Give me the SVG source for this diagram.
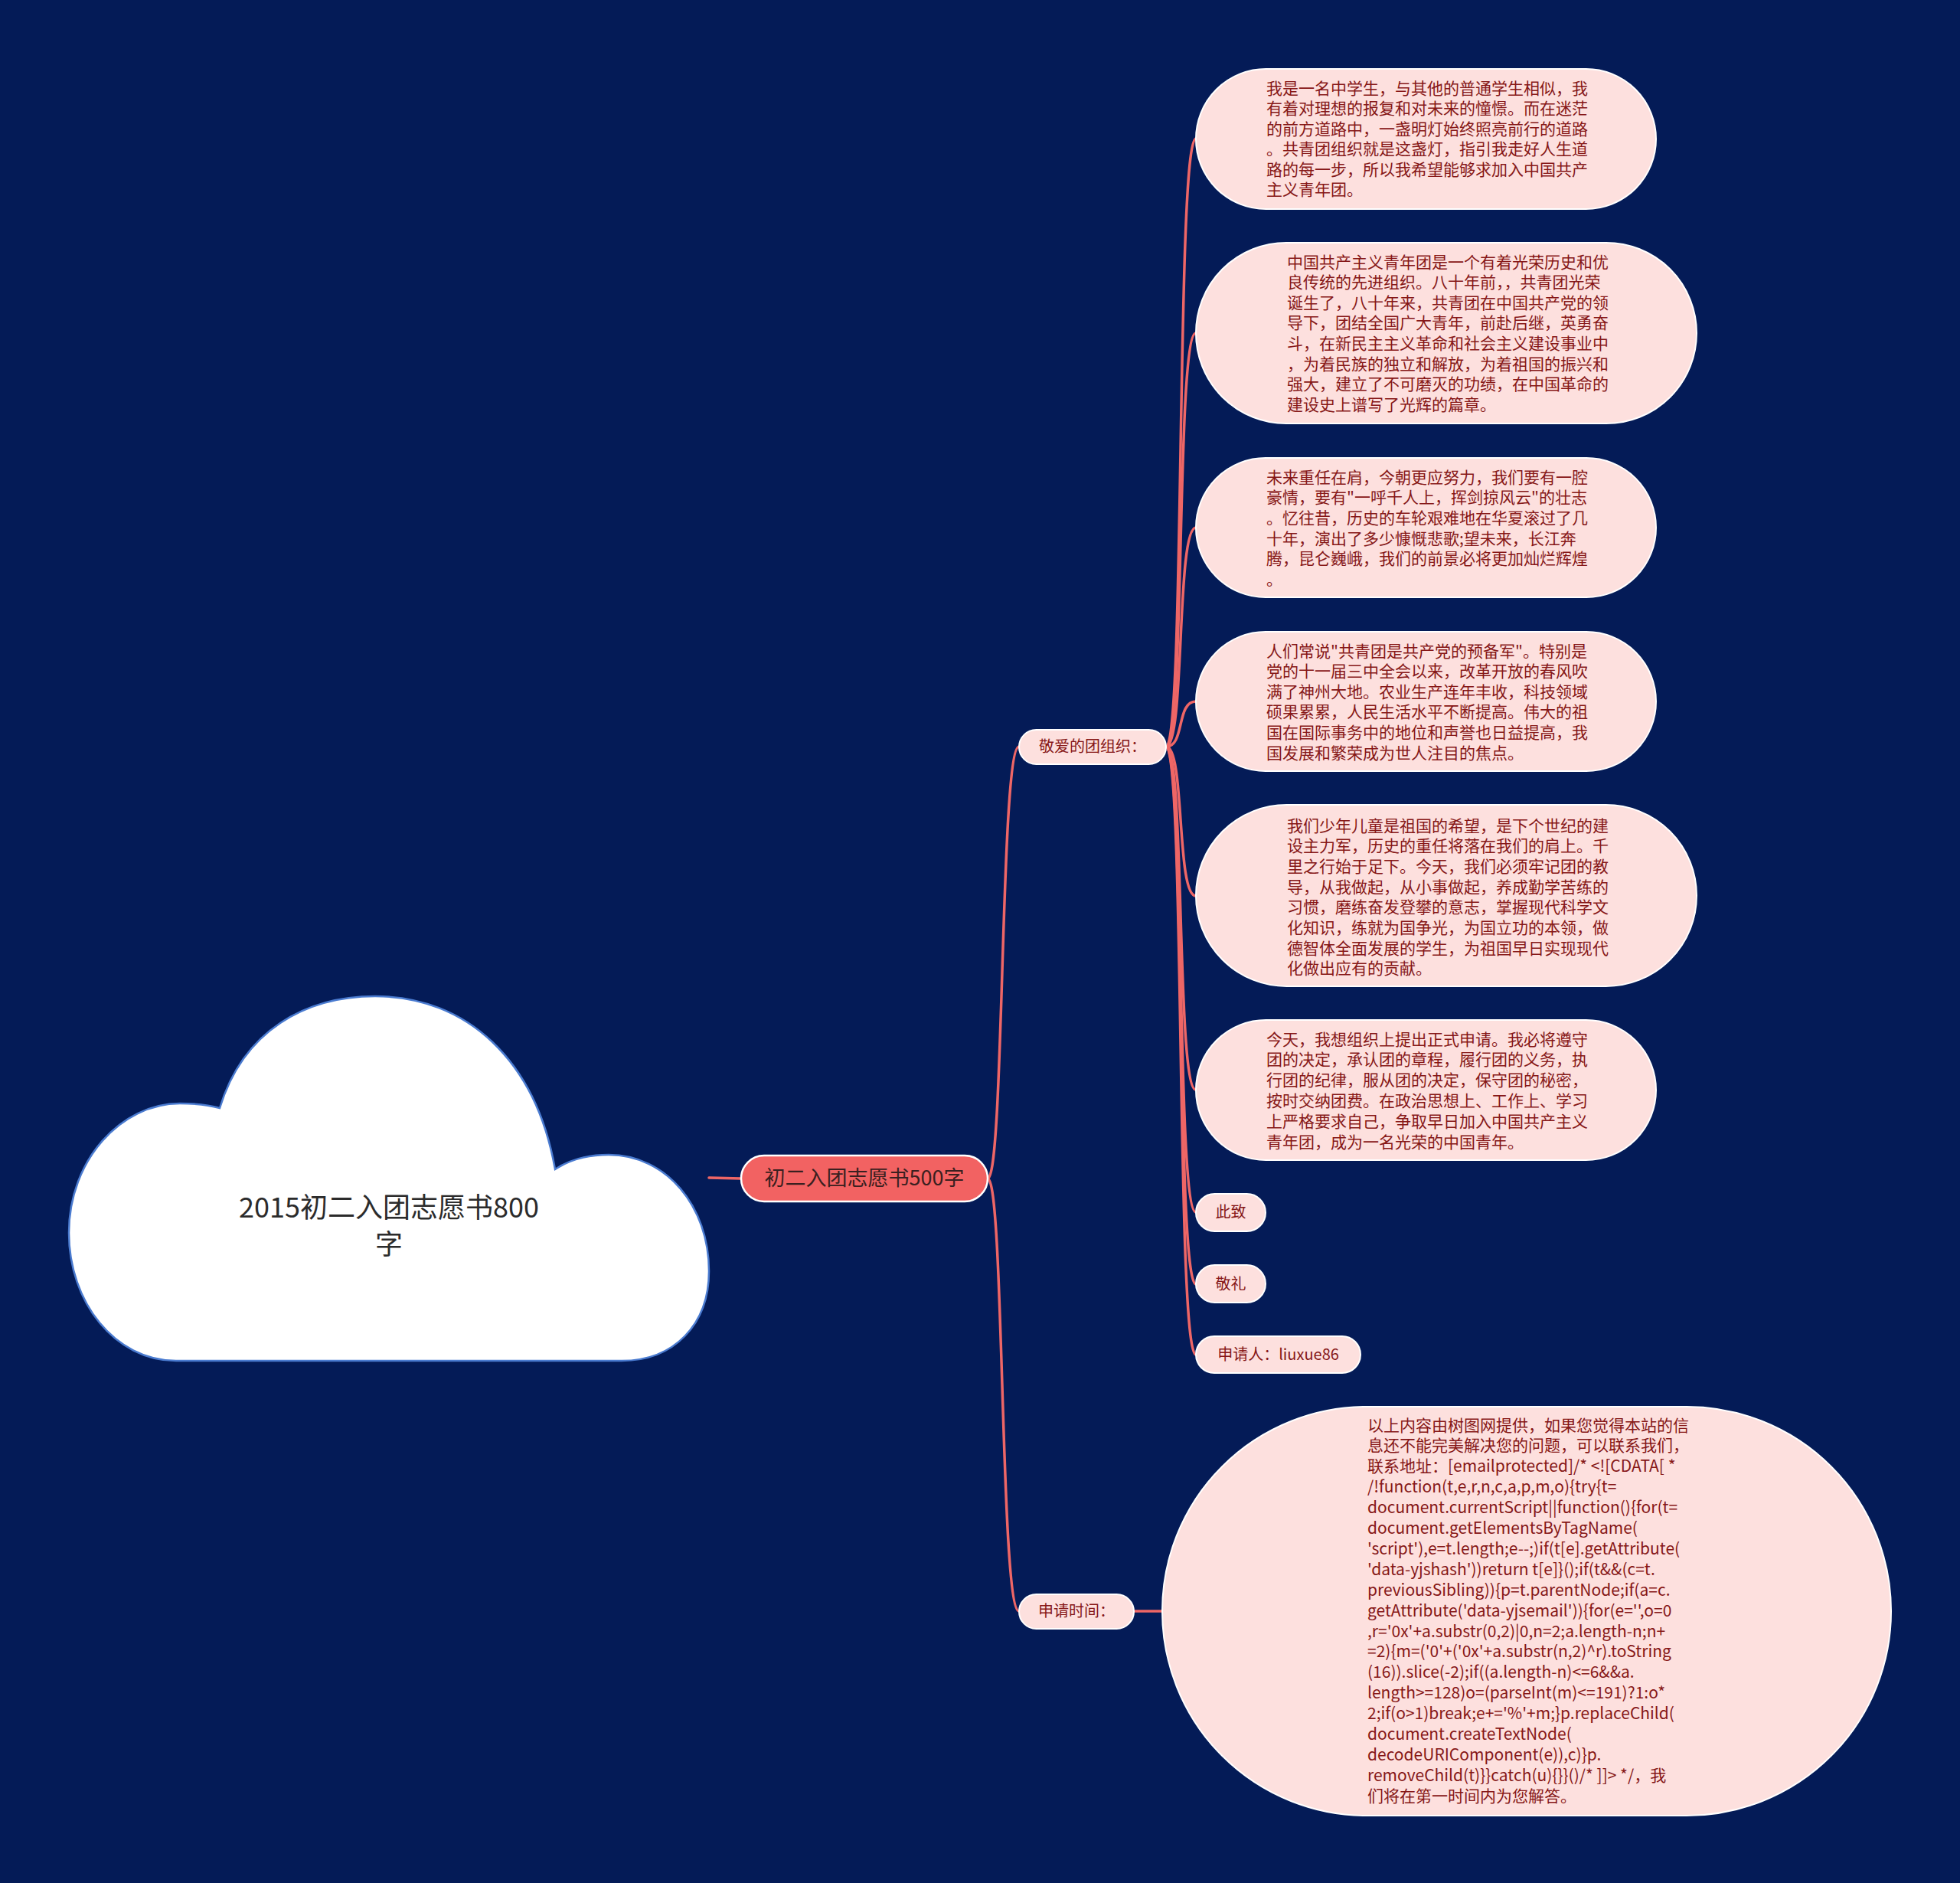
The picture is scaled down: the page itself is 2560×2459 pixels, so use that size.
<svg xmlns="http://www.w3.org/2000/svg" width="2560" height="2459" viewBox="0 0 2560 2459">
<defs>
<style>
.bg{fill:#041b57}
.conn{fill:none;stroke:#ee6666;stroke-width:3.5;stroke-linecap:round}
.leaf{fill:#fde0de;stroke:#ffffff;stroke-width:2}
.lt{font-family:"Noto Sans CJK SC","Microsoft YaHei",sans-serif;font-size:21px;fill:#861717}
.l2{font-family:"Noto Sans CJK SC",sans-serif;font-size:20px;fill:#861717;text-anchor:middle}
.main{fill:#f26262;stroke:#ffffff;stroke-width:2.5}
.mt{font-family:"Noto Sans CJK SC",sans-serif;font-size:27px;fill:#3a2020;text-anchor:middle}
.root{fill:#ffffff;stroke:#4a7bd0;stroke-width:2.5}
.rt{font-family:"Noto Sans CJK SC",sans-serif;font-size:36px;fill:#2b2b2b;text-anchor:middle}
</style>
</defs>
<rect class="bg" x="0" y="0" width="2560" height="2459"/>

<g id="connectors">
<path class="conn" d="M 926 1538 L 968 1539"/>
<path class="conn" d="M 1290 1539 C 1312 1539, 1306 975, 1331 975"/>
<path class="conn" d="M 1290 1539 C 1312 1539, 1306 2104, 1331 2104"/>
<path class="conn" d="M 1481 2104 L 1518 2104"/>
<path class="conn" d="M 1523 975 C 1548 975, 1536 181, 1562 181"/>
<path class="conn" d="M 1523 975 C 1548 975, 1536 435, 1562 435"/>
<path class="conn" d="M 1523 975 C 1548 975, 1536 689, 1562 689"/>
<path class="conn" d="M 1523 975 C 1548 975, 1536 916, 1562 916"/>
<path class="conn" d="M 1523 975 C 1548 975, 1536 1170, 1562 1170"/>
<path class="conn" d="M 1523 975 C 1548 975, 1536 1423, 1562 1423"/>
<path class="conn" d="M 1523 975 C 1548 975, 1536 1583, 1562 1583"/>
<path class="conn" d="M 1523 975 C 1548 975, 1536 1677, 1562 1677"/>
<path class="conn" d="M 1523 975 C 1548 975, 1536 1769, 1562 1769"/>
</g>

<g id="root">
<path class="root" d="M 230 1777 C 150 1777, 90 1700, 90 1610 C 90 1515, 158 1441, 235 1441 C 260 1441, 276 1444, 287 1447 C 318 1345, 400 1301, 490 1301 C 610 1301, 700 1385, 725 1527 C 745 1514, 768 1508, 795 1508 C 870 1508, 926 1575, 926 1660 C 926 1730, 880 1777, 812 1777 Z"/>
<text class="rt" x="508" y="1590">2015初二入团志愿书800</text>
<text class="rt" x="508" y="1638">字</text>
</g>

<g id="main">
<rect class="main" x="968" y="1509" width="322" height="60" rx="30"/>
<text class="mt" x="1129" y="1548">初二入团志愿书500字</text>
</g>

<g id="n-jingai">
<rect class="leaf" x="1331" y="953" width="192" height="45" rx="22.5"/>
<text class="l2" x="1427" y="982">敬爱的团组织：</text>
</g>

<g id="n-shenqingshijian">
<rect class="leaf" x="1331" y="2082" width="150" height="45" rx="22.5"/>
<text class="l2" x="1406" y="2111">申请时间：</text>
</g>

<g id="n1">
<rect class="leaf" x="1562" y="90" width="601" height="183" rx="91.5"/>
<text class="lt">
<tspan x="1654" y="122.5">我是一名中学生，与其他的普通学生相似，我</tspan>
<tspan x="1654" y="149">有着对理想的报复和对未来的憧憬。而在迷茫</tspan>
<tspan x="1654" y="175.5">的前方道路中，一盏明灯始终照亮前行的道路</tspan>
<tspan x="1654" y="202">。共青团组织就是这盏灯，指引我走好人生道</tspan>
<tspan x="1654" y="228.5">路的每一步，所以我希望能够求加入中国共产</tspan>
<tspan x="1654" y="255">主义青年团。</tspan>
</text>
</g>

<g id="n2">
<rect class="leaf" x="1562" y="317" width="654" height="236" rx="118"/>
<text class="lt">
<tspan x="1681" y="349.5">中国共产主义青年团是一个有着光荣历史和优</tspan>
<tspan x="1681" y="376.1">良传统的先进组织。八十年前，，共青团光荣</tspan>
<tspan x="1681" y="402.7">诞生了，八十年来，共青团在中国共产党的领</tspan>
<tspan x="1681" y="429.3">导下，团结全国广大青年，前赴后继，英勇奋</tspan>
<tspan x="1681" y="455.9">斗，在新民主主义革命和社会主义建设事业中</tspan>
<tspan x="1681" y="482.5">，为着民族的独立和解放，为着祖国的振兴和</tspan>
<tspan x="1681" y="509.1">强大，建立了不可磨灭的功绩，在中国革命的</tspan>
<tspan x="1681" y="535.7">建设史上谱写了光辉的篇章。</tspan>
</text>
</g>

<g id="n3">
<rect class="leaf" x="1562" y="598" width="601" height="182" rx="91"/>
<text class="lt">
<tspan x="1654" y="630.5">未来重任在肩，今朝更应努力，我们要有一腔</tspan>
<tspan x="1654" y="657.2">豪情，要有"一呼千人上，挥剑掠风云"的壮志</tspan>
<tspan x="1654" y="683.9">。忆往昔，历史的车轮艰难地在华夏滚过了几</tspan>
<tspan x="1654" y="710.6">十年，演出了多少慷慨悲歌;望未来，长江奔</tspan>
<tspan x="1654" y="737.3">腾，昆仑巍峨，我们的前景必将更加灿烂辉煌</tspan>
<tspan x="1654" y="764">。</tspan>
</text>
</g>

<g id="n4">
<rect class="leaf" x="1562" y="825" width="601" height="182" rx="91"/>
<text class="lt">
<tspan x="1654" y="857.5">人们常说"共青团是共产党的预备军"。特别是</tspan>
<tspan x="1654" y="884.1">党的十一届三中全会以来，改革开放的春风吹</tspan>
<tspan x="1654" y="910.7">满了神州大地。农业生产连年丰收，科技领域</tspan>
<tspan x="1654" y="937.3">硕果累累，人民生活水平不断提高。伟大的祖</tspan>
<tspan x="1654" y="963.9">国在国际事务中的地位和声誉也日益提高，我</tspan>
<tspan x="1654" y="990.5">国发展和繁荣成为世人注目的焦点。</tspan>
</text>
</g>

<g id="n5">
<rect class="leaf" x="1562" y="1051" width="654" height="237" rx="118.5"/>
<text class="lt">
<tspan x="1681" y="1085.5">我们少年儿童是祖国的希望，是下个世纪的建</tspan>
<tspan x="1681" y="1112.2">设主力军，历史的重任将落在我们的肩上。千</tspan>
<tspan x="1681" y="1138.9">里之行始于足下。今天，我们必须牢记团的教</tspan>
<tspan x="1681" y="1165.6">导，从我做起，从小事做起，养成勤学苦练的</tspan>
<tspan x="1681" y="1192.3">习惯，磨练奋发登攀的意志，掌握现代科学文</tspan>
<tspan x="1681" y="1219">化知识，练就为国争光，为国立功的本领，做</tspan>
<tspan x="1681" y="1245.7">德智体全面发展的学生，为祖国早日实现现代</tspan>
<tspan x="1681" y="1272.4">化做出应有的贡献。</tspan>
</text>
</g>

<g id="n6">
<rect class="leaf" x="1562" y="1332" width="601" height="183" rx="91.5"/>
<text class="lt">
<tspan x="1654" y="1364.5">今天，我想组织上提出正式申请。我必将遵守</tspan>
<tspan x="1654" y="1391.3">团的决定，承认团的章程，履行团的义务，执</tspan>
<tspan x="1654" y="1418.1">行团的纪律，服从团的决定，保守团的秘密，</tspan>
<tspan x="1654" y="1444.9">按时交纳团费。在政治思想上、工作上、学习</tspan>
<tspan x="1654" y="1471.7">上严格要求自己，争取早日加入中国共产主义</tspan>
<tspan x="1654" y="1498.5">青年团，成为一名光荣的中国青年。</tspan>
</text>
</g>

<g id="n-cizhi">
<rect class="leaf" x="1562" y="1559" width="91" height="49" rx="24.5"/>
<text class="l2" x="1607.5" y="1590">此致</text>
</g>

<g id="n-jingli">
<rect class="leaf" x="1562" y="1652" width="91" height="49" rx="24.5"/>
<text class="l2" x="1607.5" y="1684">敬礼</text>
</g>

<g id="n-shenqingren">
<rect class="leaf" x="1562" y="1745" width="215" height="48" rx="24"/>
<text class="l2" x="1669.5" y="1776">申请人：liuxue86</text>
</g>

<g id="n-info">
<rect class="leaf" x="1518" y="1837" width="952" height="534" rx="267"/>
<text class="lt">
<tspan x="1786" y="1868.5">以上内容由树图网提供，如果您觉得本站的信</tspan>
<tspan x="1786" y="1895.4">息还不能完美解决您的问题，可以联系我们，</tspan>
<tspan x="1786" y="1922.3">联系地址：[emailprotected]/* &lt;![CDATA[ *</tspan>
<tspan x="1786" y="1949.2">/!function(t,e,r,n,c,a,p,m,o){try{t=</tspan>
<tspan x="1786" y="1976.1">document.currentScript||function(){for(t=</tspan>
<tspan x="1786" y="2003">document.getElementsByTagName(</tspan>
<tspan x="1786" y="2029.9">'script'),e=t.length;e--;)if(t[e].getAttribute(</tspan>
<tspan x="1786" y="2056.8">'data-yjshash'))return t[e]}();if(t&amp;&amp;(c=t.</tspan>
<tspan x="1786" y="2083.7">previousSibling)){p=t.parentNode;if(a=c.</tspan>
<tspan x="1786" y="2110.6">getAttribute('data-yjsemail')){for(e='',o=0</tspan>
<tspan x="1786" y="2137.5">,r='0x'+a.substr(0,2)|0,n=2;a.length-n;n+</tspan>
<tspan x="1786" y="2164.4">=2){m=('0'+('0x'+a.substr(n,2)^r).toString</tspan>
<tspan x="1786" y="2191.3">(16)).slice(-2);if((a.length-n)&lt;=6&amp;&amp;a.</tspan>
<tspan x="1786" y="2218.2">length&gt;=128)o=(parseInt(m)&lt;=191)?1:o*</tspan>
<tspan x="1786" y="2245.1">2;if(o&gt;1)break;e+='%'+m;}p.replaceChild(</tspan>
<tspan x="1786" y="2272">document.createTextNode(</tspan>
<tspan x="1786" y="2298.9">decodeURIComponent(e)),c)}p.</tspan>
<tspan x="1786" y="2325.8">removeChild(t)}}catch(u){}}()/* ]]&gt; */，我</tspan>
<tspan x="1786" y="2352.7">们将在第一时间内为您解答。</tspan>
</text>
</g>
</svg>
